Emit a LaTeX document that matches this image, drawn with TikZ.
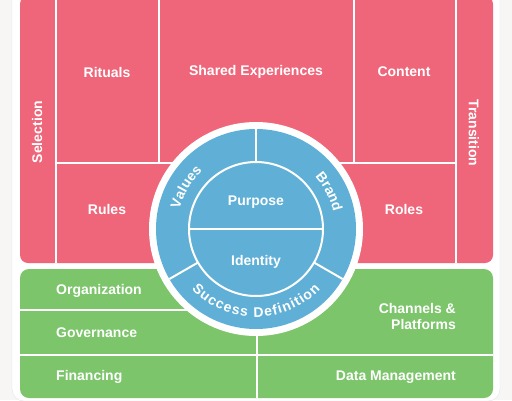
\documentclass[tikz,border=0pt]{standalone}
\usepackage{fontspec}
\setmainfont{Liberation Sans}
\usetikzlibrary{decorations.text}

\definecolor{rosered}{HTML}{EF667A}
\definecolor{leafgreen}{HTML}{7CC56B}
\definecolor{skyblue}{HTML}{5FAFD6}
\definecolor{pagegray}{HTML}{F7F6F4}
\definecolor{cardgray}{HTML}{E4E4E4}

\begin{document}
\begin{tikzpicture}[
    x=1pt, y=-1pt,
    divider/.style={
        draw=white,
        line width=2pt
    },
    celltext/.style={
        text=white,
        font=\bfseries\fontsize{14}{16}\selectfont,
        align=center,
        inner sep=0pt
    },
    ringtext/.style={
        decorate,
        decoration={
            text along path,
            text align=center,
            text color=white,
            text={|\bfseries\fontsize{14}{16}\selectfont|#1}
        }
    },
    stretchtext/.style={
        ringtext=#1,
        decoration={text align=fit to path}
    }
]
\useasboundingbox (0,0) rectangle (512,400);
\fill[pagegray] (0,0) rectangle (512,400);

% Card
\draw[cardgray, fill=white, rounded corners=12pt] (12,-12) rectangle (500,401);

% Pink and green areas
\fill[rosered, rounded corners=8pt] (20,-4) rectangle (493,263);
\fill[leafgreen, rounded corners=9pt] (20,269) rectangle (493,398);

% Dividers
\draw[divider] (56,-4) -- (56,263);
\draw[divider] (456,-4) -- (456,263);
\draw[divider] (159,-4) -- (159,163);
\draw[divider] (354,-4) -- (354,163);
\draw[divider] (56,163) -- (456,163);
\draw[divider] (20,310) -- (257,310);
\draw[divider] (257,269) -- (257,398);
\draw[divider] (20,355) -- (493,355);

% Circle
\fill[white] (256,229) circle (107);
\fill[skyblue] (256,229) circle (100);
\draw[divider] (256,229) circle (67);
\draw[divider] (189,229) -- (323,229);
\foreach \ang in {90,210,330}
    \draw[divider] (256,229) ++(-\ang:67) -- ++(-\ang:33);

% Curved texts
\path[ringtext=Values] (256,229) ++(-189:79) arc[start angle=-189, end angle=-109, radius=79];
\path[ringtext=Brand] (256,229) ++(-67:79) arc[start angle=-67, end angle=13, radius=79];
\path[stretchtext=Success Definition] (256,229) ++(-223:88) arc[start angle=-223, end angle=-317, radius=88];

% Nodes
\node[celltext, rotate=90] (selection) at (37,132) {Selection};
\node[celltext, rotate=-90] (transition) at (474,133) {Transition};
\node[celltext] (rituals) at (107,72) {Rituals};
\node[celltext] (shared) at (256,72) {Shared Experiences};
\node[celltext] (content) at (404,72) {Content};
\node[celltext] (rules) at (107,209) {Rules};
\node[celltext] (roles) at (404,209) {Roles};
\node[celltext] (purpose) at (256,202) {Purpose};
\node[celltext] (identity) at (256,262) {Identity};
\node[celltext, anchor=west] (organization) at (56,291) {Organization};
\node[celltext, anchor=west] (governance) at (56,333) {Governance};
\node[celltext, anchor=west] (financing) at (56,377) {Financing};
\node[celltext, anchor=east, align=right] (channels) at (456,316) {Channels \&\\Platforms};
\node[celltext, anchor=east] (datamgmt) at (456,377) {Data Management};

\end{tikzpicture}
\end{document}
